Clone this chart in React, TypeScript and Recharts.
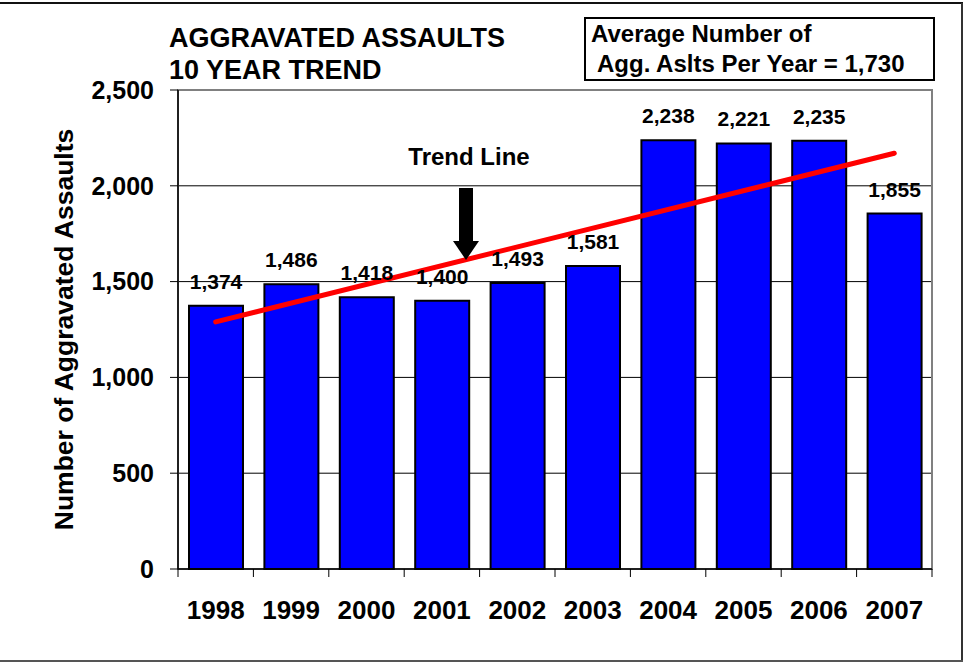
import React from "react";
import {
  ComposedChart, Bar, Line, XAxis, YAxis, CartesianGrid, LabelList, ReferenceArea,
} from "recharts";

const years = ["1998", "1999", "2000", "2001", "2002", "2003", "2004", "2005", "2006", "2007"];
const assaults = [1374, 1486, 1418, 1400, 1493, 1581, 2238, 2221, 2235, 1855];
// trend line end points (first and last year)
const trendEnds = [1290, 2170];
const yTicks = [0, 500, 1000, 1500, 2000, 2500];
const gridValues = [500, 1000, 1500, 2000];

const data = years.map((year, i) => ({
  year,
  assaults: assaults[i],
  trend: i === 0 ? trendEnds[0] : i === years.length - 1 ? trendEnds[1] : null,
}));

const FONT = "'Liberation Sans', Arial, Helvetica, sans-serif";
const TICK_LEN = 8;
const X_TICK_MARGIN = 42;

/* year label centred on the band, tick marks on the band edges (Excel style) */
function YearTick(props: any) {
  const { x, y, payload, index, width } = props;
  const half = Number.isFinite(width) && width > 0
    ? width / years.length / 2
    : (payload?.offset ?? 0);
  const axisY = y - X_TICK_MARGIN - TICK_LEN;
  return (
    <g>
      <line x1={x - half} x2={x - half} y1={axisY} y2={axisY + TICK_LEN} stroke="#000" strokeWidth={1} />
      {index === years.length - 1 && (
        <line x1={x + half} x2={x + half} y1={axisY} y2={axisY + TICK_LEN} stroke="#000" strokeWidth={1} />
      )}
      <text x={x} y={y} textAnchor="middle" fontFamily={FONT} fontWeight="bold" fontSize={26} fill="#000">
        {payload.value}
      </text>
    </g>
  );
}

export default function App() {
  const textStyle = { fontFamily: FONT, fontWeight: "bold" as const, fill: "#000" };

  return (
    <div style={{ position: "absolute", left: 0, top: 0, width: 971, height: 663, background: "#fff" }}>
      <ComposedChart
        width={971}
        height={663}
        data={data}
        margin={{ top: 90, right: 39, bottom: 34, left: 0 }}
      >
        <ReferenceArea
          x1="1998" x2="2007" y1={0} y2={2500}
          fill="none" stroke="#808080" strokeWidth={2} ifOverflow="visible"
        />
        <CartesianGrid
          vertical={false}
          horizontalValues={gridValues}
          stroke="#000"
          strokeWidth={1}
        />
        <XAxis
          dataKey="year"
          height={60}
          axisLine={{ stroke: "#000", strokeWidth: 1.5 }}
          tickLine={{ stroke: "none" }}
          tickSize={TICK_LEN}
          tickMargin={X_TICK_MARGIN}
          tick={<YearTick />}
          interval={0}
        />
        <YAxis
          width={178}
          domain={[0, 2500]}
          ticks={yTicks}
          interval={0}
          axisLine={{ stroke: "#000", strokeWidth: 1.5 }}
          tickLine={{ stroke: "#000" }}
          tickSize={TICK_LEN}
          tickMargin={16}
          tick={{ ...textStyle, fontSize: 25 }}
          tickFormatter={(v) => Number(v).toLocaleString("en-US")}
          label={{
            value: "Number of Aggravated Assaults",
            angle: -90,
            position: "insideLeft",
            offset: 64,
            style: { ...textStyle, fontSize: 26.5, textAnchor: "middle" },
          }}
        />
        <Bar
          dataKey="assaults"
          fill="#0000FF"
          stroke="#000"
          strokeWidth={2}
          barSize={54}
          isAnimationActive={false}
        >
          <LabelList
            dataKey="assaults"
            position="top"
            offset={17}
            formatter={(v: any) => Number(v).toLocaleString("en-US")}
            style={{ ...textStyle, fontSize: 21 }}
          />
        </Bar>
        <Line
          dataKey="trend"
          type="linear"
          stroke="#FF0000"
          strokeWidth={5}
          strokeLinecap="round"
          dot={false}
          activeDot={false}
          connectNulls
          isAnimationActive={false}
        />
      </ComposedChart>

      {/* annotations: frame, title, average box, trend line pointer */}
      <svg
        width={971}
        height={663}
        style={{ position: "absolute", left: 0, top: 0, pointerEvents: "none" }}
      >
        <line x1={0} y1={3} x2={963} y2={3} stroke="#111" strokeWidth={2} />
        <line x1={962} y1={3} x2={962} y2={662} stroke="#333" strokeWidth={2} />
        <line x1={0} y1={661} x2={963} y2={661} stroke="#555" strokeWidth={2} />

        <text x={169} y={46.5} {...textStyle} fontFamily={FONT} fontSize={27}>AGGRAVATED ASSAULTS</text>
        <text x={169} y={78.5} {...textStyle} fontFamily={FONT} fontSize={27}>10 YEAR TREND</text>

        <rect x={585} y={18} width={349} height={62} fill="#fff" stroke="#000" strokeWidth={2} />
        <text x={591} y={42} {...textStyle} fontFamily={FONT} fontSize={24}>Average Number of</text>
        <text x={597} y={72} {...textStyle} fontFamily={FONT} fontSize={24}>Agg. Aslts Per Year = 1,730</text>

        <text x={469} y={165} {...textStyle} fontFamily={FONT} fontSize={24} textAnchor="middle">Trend Line</text>
        <rect x={459} y={188} width={14} height={53} fill="#000" />
        <polygon points="453,241 479,241 466,260" fill="#000" />
      </svg>
    </div>
  );
}
